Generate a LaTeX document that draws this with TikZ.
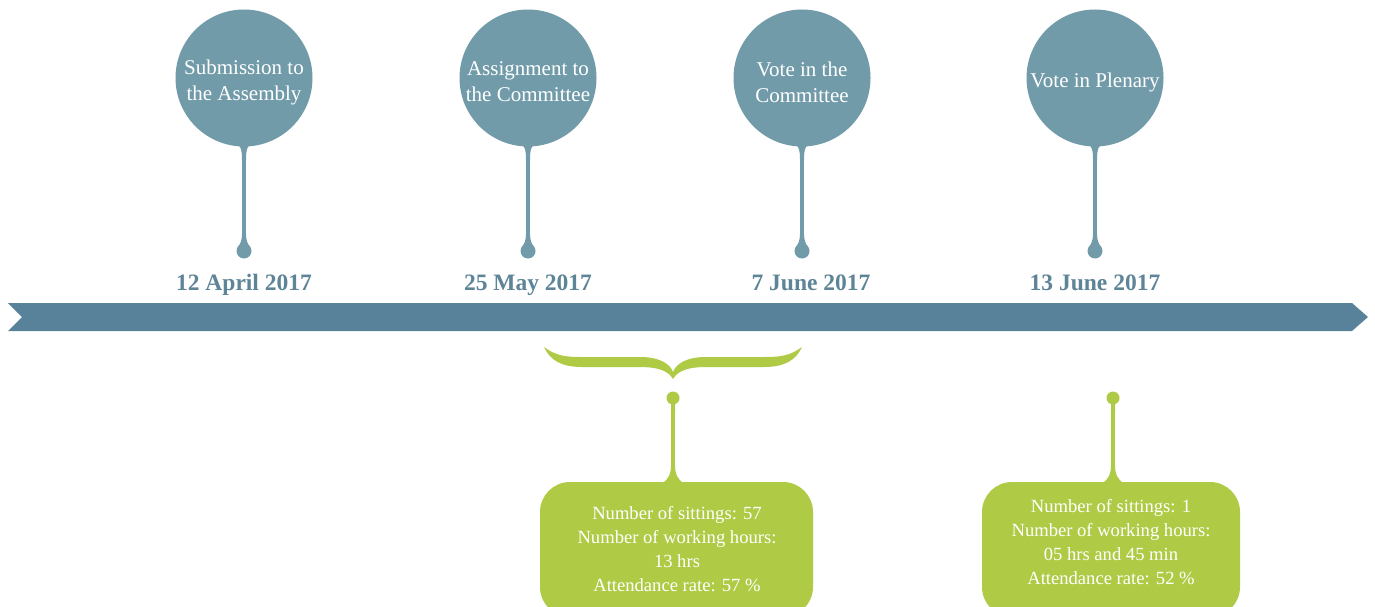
\documentclass[tikz,border=0pt]{standalone}
\usepackage{fontspec}
\setmainfont{Liberation Serif}
\definecolor{pinblue}{RGB}{114,155,170}
\definecolor{bandblue}{RGB}{88,130,154}
\definecolor{datecol}{RGB}{94,132,152}
\definecolor{lime}{RGB}{175,203,69}
\tikzset{
  x=1pt,y=-1pt,
  bubble/.style={circle,fill=pinblue,inner sep=0pt,minimum size=137pt},
  bubbletext/.style={text=white,align=center,font=\fontsize{21}{26}\selectfont},
  drop/.style={circle,fill=#1,inner sep=0pt,minimum size=15pt},
  datelabel/.style={text=datecol,anchor=base,font=\fontsize{23.5}{26}\selectfont\bfseries},
  stem/.style={line width=4pt,draw=#1},
  infobox/.style={rounded corners=30pt,fill=lime,minimum width=#1,minimum height=135pt,inner sep=0pt},
  infotext/.style={text=white,align=center,font=\fontsize{18.6}{24}\selectfont},
}
\newcommand{\bluepin}[5]{%
  \node[bubble] (c#1) at (#2,78) {};
  \node[bubbletext] (ct#1) at (#2,82) {#3};
  \node[drop=pinblue] (d#1) at (#2,251) {};
  \draw[stem=pinblue] (c#1.south) -- (d#1.north);
  \fill[pinblue] (#2-10,141) .. controls (#2-3,145) and (#2-2,150) .. (#2-2,160) -- (#2+2,160) .. controls (#2+2,150) and (#2+3,145) .. (#2+10,141) -- cycle;
  \fill[pinblue] (#2-2,234) .. controls (#2-2,241) and (#2-4,244) .. (#2-6,247) -- (#2+6,247) .. controls (#2+4,244) and (#2+2,241) .. (#2+2,234) -- cycle;
  \node[datelabel] (t#1) at (#4,290) {#5};
}
\newcommand{\greenpin}[2]{%
  \node[drop=lime,minimum size=13pt] (g#1) at (#2,398) {};
  \coordinate (gb#1) at (#2,482);
  \draw[line width=3.5pt,draw=lime] (g#1.south) -- (gb#1);
  \fill[lime] (#2-2,402) .. controls (#2-2,406) and (#2-2,408) .. (#2-2,412) -- (#2+2,412) .. controls (#2+2,408) and (#2+2,406) .. (#2+2,402) -- cycle;
  \fill[lime] (#2-10,483) .. controls (#2-4,478) and (#2-2,474) .. (#2-2,465) -- (#2+2,465) .. controls (#2+2,474) and (#2+4,478) .. (#2+10,483) -- cycle;
}
\begin{document}
\begin{tikzpicture}
\clip (0,0) rectangle (1375,607);
\fill[white] (0,0) rectangle (1375,607);
% timeline band
\fill[bandblue] (8,303) -- (1352,303) -- (1368,317) -- (1352,331) -- (8,331) -- (22,317) -- cycle;
% pins
\bluepin{1}{244}{Submission to\\the Assembly}{244}{12 April 2017}
\bluepin{2}{528}{Assignment to\\the Committee}{528}{25 May 2017}
\bluepin{3}{802}{Vote in the\\Committee}{811}{7 June 2017}
\bluepin{4}{1095}{Vote in Plenary}{1095}{13 June 2017}
% brace
\fill[lime] (544,347) .. controls (556,356) and (566,357) .. (582,357) -- (640,357)
  .. controls (660,357) and (670,364) .. (673,372)
  .. controls (676,364) and (686,357) .. (706,357) -- (764,357)
  .. controls (780,357) and (790,356) .. (802,347)
  .. controls (796,360) and (785,367) .. (764,367) -- (706,367)
  .. controls (690,367) and (678,370) .. (673,379)
  .. controls (668,370) and (656,367) .. (640,367) -- (582,367)
  .. controls (561,367) and (550,360) .. (544,347) -- cycle;
% green pins and boxes
\node[infobox=273pt] (box1) at (676.5,549.5) {};
\node[infobox=258pt] (box2) at (1111,549.5) {};
\greenpin{1}{673}
\greenpin{2}{1113}
\node[infotext] (txt1) at (677,549) {Number of sittings: 57\\Number of working hours:\\13 hrs\\Attendance rate: 57 \%};
\node[infotext] (txt2) at (1111,542) {Number of sittings: 1\\Number of working hours:\\05 hrs and 45 min\\Attendance rate: 52 \%};
\end{tikzpicture}
\end{document}
